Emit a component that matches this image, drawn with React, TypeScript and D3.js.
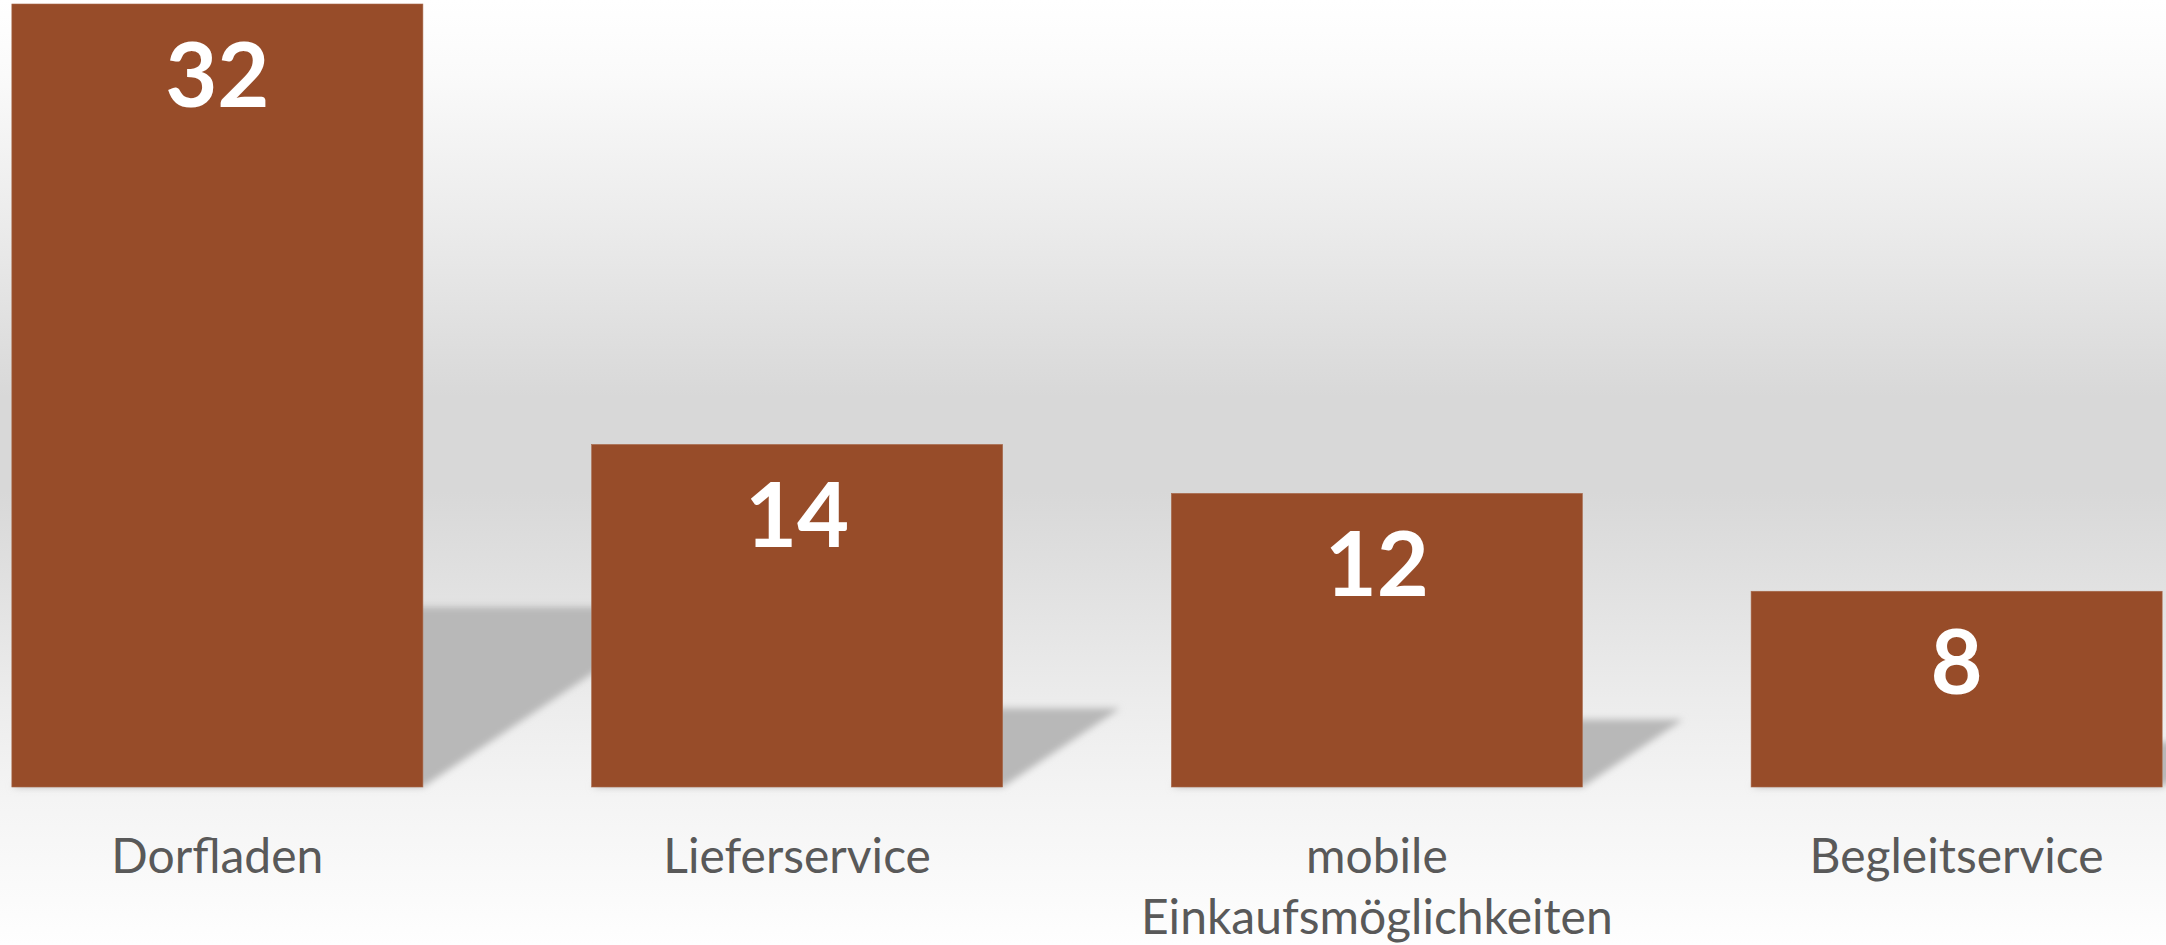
import { useMemo } from 'react';
import * as d3 from 'd3';

const W = 2166;
const H = 945;

const categories = ['Dorfladen', 'Lieferservice', 'mobile\nEinkaufsmöglichkeiten', 'Begleitservice'];
const values = [32, 14, 12, 8];

const BAR = '#974c29';
const LABEL = '#595959';

/* background stops: offset (0..1 of height), grey level */
const bgStops: [number, string][] = [
  [0, '#ffffff'],
  [0.08, '#fafafa'],
  [0.25, '#eaeaea'],
  [0.42, '#d8d8d8'],
  [0.52, '#d8d8d8'],
  [0.62, '#e1e1e1'],
  [0.74, '#ececec'],
  [0.83, '#f3f3f3'],
  [0.92, '#f9f9f9'],
  [1, '#fefefe'],
];

export default function App() {
  const base = 787;

  const x = useMemo(
    () => d3.scaleBand<string>().domain(categories).range([-72.5, 2246.5]).paddingInner(0.291).paddingOuter(0.1455),
    []
  );
  const y = useMemo(() => d3.scaleLinear().domain([0, 32]).range([base, 4]), []);

  // perspective floor shadow: height ratio and shear ratio vs bar height
  const sh = 0.23;
  const sk = 0.343;

  const shadowPath = (c: string, v: number) => {
    const x0 = x(c)!;
    const x1 = x0 + x.bandwidth();
    const h = base - y(v);
    const p = d3.path();
    p.moveTo(x0, base);
    p.lineTo(x1, base);
    p.lineTo(x1 + sk * h, base - sh * h);
    p.lineTo(x0 + sk * h, base - sh * h);
    p.closePath();
    return p.toString();
  };

  return (
    <svg width={W} height={H} style={{ position: 'absolute', left: 0, top: 0, display: 'block' }}>
      <defs>
        <linearGradient id="bg" x1="0" y1="0" x2="0" y2="1">
          {bgStops.map(([o, c]) => (
            <stop key={o} offset={o} stopColor={c} />
          ))}
        </linearGradient>
        <filter id="blur" x="-10%" y="-20%" width="120%" height="140%">
          <feGaussianBlur stdDeviation="3.5" />
        </filter>
      </defs>
      <rect width={W} height={H} fill="url(#bg)" />

      {/* shadows */}
      <g filter="url(#blur)">
        {categories.map((c, i) => (
          <path key={c} d={shadowPath(c, values[i])} fill="#b8b8b8" />
        ))}
      </g>

      {/* bars */}
      {categories.map((c, i) => (
        <rect
          key={c}
          x={x(c)}
          y={y(values[i])}
          width={x.bandwidth()}
          height={base - y(values[i])}
          fill={BAR}
          stroke="#a8694b"
          strokeWidth={0.6}
        />
      ))}

      {/* value labels */}
      {categories.map((c, i) => (
        <text
          key={c}
          x={x(c)! + x.bandwidth() / 2}
          y={y(values[i]) + 103}
          textAnchor="middle"
          fill="#ffffff"
          fontFamily="Lato, 'Open Sans', sans-serif"
          fontWeight={700}
          fontSize={90}
        >
          {values[i]}
        </text>
      ))}

      {/* category labels */}
      {categories.map((c) => (
        <text
          key={c}
          x={x(c)! + x.bandwidth() / 2}
          y={873}
          textAnchor="middle"
          fill={LABEL}
          fontFamily="Lato, 'Open Sans', sans-serif"
          fontSize={48}
        >
          {c.split('\n').map((line, j) => (
            <tspan key={j} x={x(c)! + x.bandwidth() / 2} dy={j === 0 ? 0 : 61}>
              {line}
            </tspan>
          ))}
        </text>
      ))}
    </svg>
  );
}
